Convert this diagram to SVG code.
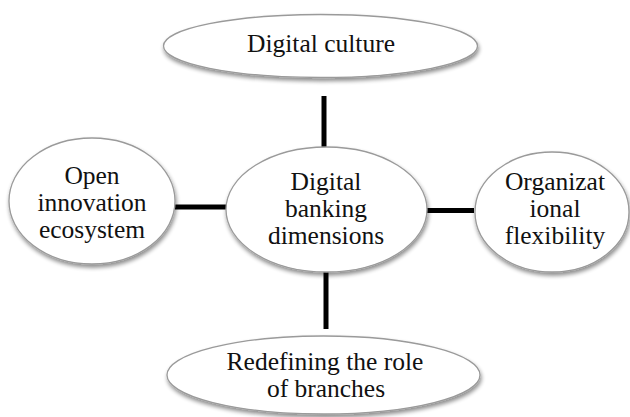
<svg xmlns="http://www.w3.org/2000/svg" width="630" height="417" viewBox="0 0 630 417">
<style>
.node ellipse{fill:#ffffff;stroke:#9a9a9a;stroke-width:1.3;filter:url(#sh)}
.node text{font-family:'Liberation Serif','Times New Roman',Times,serif;font-size:25.5px;fill:#111;text-anchor:middle}
.conn line{stroke:#000;stroke-width:5}
</style>
<defs>
<filter id="sh" x="-10%" y="-10%" width="125%" height="135%">
<feGaussianBlur in="SourceAlpha" stdDeviation="2"/>
<feOffset dx="1" dy="3" result="b"/>
<feComponentTransfer><feFuncA type="linear" slope="0.45"/></feComponentTransfer>
<feMerge><feMergeNode/><feMergeNode in="SourceGraphic"/></feMerge>
</filter>
</defs>
<rect width="630" height="417" fill="#ffffff"/>
<g class="conn" id="connectors">
<line x1="324" y1="96" x2="324" y2="148"/>
<line x1="326" y1="271" x2="326" y2="329"/>
<line x1="175" y1="207" x2="228" y2="207"/>
<line x1="426" y1="210.5" x2="474" y2="210.5"/>
</g>
<g class="node" id="node-top">
<ellipse cx="320.5" cy="46" rx="157" ry="31.5"/>
<text x="321" y="52" font-family="Liberation Serif">Digital culture</text>
</g>
<g class="node" id="node-left">
<ellipse cx="92" cy="201" rx="83" ry="63"/>
<text x="92" y="184">Open</text>
<text x="92" y="211">innovation</text>
<text x="92" y="238">ecosystem</text>
</g>
<g class="node" id="node-center">
<ellipse cx="326.5" cy="209.5" rx="100.5" ry="62.5"/>
<text x="326" y="190">Digital</text>
<text x="326" y="217">banking</text>
<text x="326" y="244">dimensions</text>
</g>
<g class="node" id="node-right">
<ellipse cx="552" cy="212" rx="77" ry="60"/>
<text x="555" y="190">Organizat</text>
<text x="555" y="217">ional</text>
<text x="555" y="244">flexibility</text>
</g>
<g class="node" id="node-bottom">
<ellipse cx="323.5" cy="375" rx="156.5" ry="39"/>
<text x="325" y="370">Redefining the role</text>
<text x="326" y="397">of branches</text>
</g>
</svg>
